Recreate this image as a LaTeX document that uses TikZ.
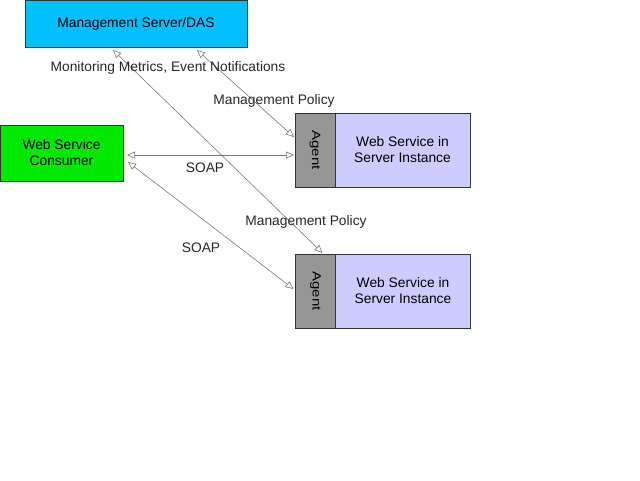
\documentclass[tikz,border=0pt]{standalone}
\usepackage{fontspec}
\setmainfont{Liberation Sans}
\usepackage{tikz}
\usetikzlibrary{calc}
\usetikzlibrary{positioning}
\usetikzlibrary{arrows.meta}
\definecolor{dascyan}{RGB}{0,191,255}
\definecolor{consgreen}{RGB}{0,232,0}
\definecolor{agentgray}{RGB}{150,150,150}
\definecolor{wslav}{RGB}{204,204,255}
\definecolor{linkgray}{RGB}{120,120,120}

\begin{document}
\begin{tikzpicture}[x=1pt, y=-1pt,
    font=\fontsize{13.8}{16}\selectfont,
    box/.style={draw=black!80, line width=0.6pt, inner sep=0pt, outer sep=0pt, align=center},
    agentbox/.style={box, fill=agentgray, minimum width=40pt, minimum height=74pt},
    wsbox/.style={box, fill=wslav, minimum width=135pt, minimum height=74pt},
    link/.style={draw=linkgray, line width=0.6pt,
      {Triangle[open,length=8pt,width=7pt]}-{Triangle[open,length=8pt,width=7pt]}},
    lbl/.style={text=black!85, inner sep=0pt}]
  \useasboundingbox (0,0) rectangle (640,480);

  \node[box, fill=dascyan, minimum width=222pt, minimum height=47pt] (mgmt) at (136,23.5)
    {Management Server/DAS};
  \node[box, fill=consgreen, minimum width=123pt, minimum height=56pt] (consumer) at (61.5,153)
    {Web Service\\Consumer};

  \node[agentbox] (agent1) at (315,150)
    {\rotatebox{-90}{\scalebox{1.25}[1]{\fontsize{12}{14}\selectfont Agent}}};
  \node[wsbox, right=0pt of agent1] (ws1) {Web Service in\\Server Instance};
  \node[agentbox] (agent2) at (315.5,291)
    {\rotatebox{-90}{\scalebox{1.25}[1]{\fontsize{12}{14}\selectfont Agent}}};
  \node[wsbox, right=0pt of agent2] (ws2) {Web Service in\\Server Instance};

  \draw[link] ($(mgmt.south west)+(172,3)$) -- ($(agent1.west)+(-1,-13)$);
  \draw[link] ($(mgmt.south west)+(88,3)$) -- ($(agent2.north west)+(27,-1)$);
  \draw[link] ($(consumer.east)+(4,2)$) -- ($(agent1.west)+(-1,5)$);
  \draw[link] ($(consumer.east)+(5,9)$) -- ($(agent2.west)+(-2,-2)$);

  \node[lbl] (monlbl) at (168,68) {Monitoring Metrics, Event Notifications};
  \node[lbl] (pol1) at (274,101) {Management Policy};
  \node[lbl] (soap1) at (205,168) {SOAP};
  \node[lbl] (pol2) at (306,222) {Management Policy};
  \node[lbl] (soap2) at (201,248) {SOAP};
\end{tikzpicture}
\end{document}
